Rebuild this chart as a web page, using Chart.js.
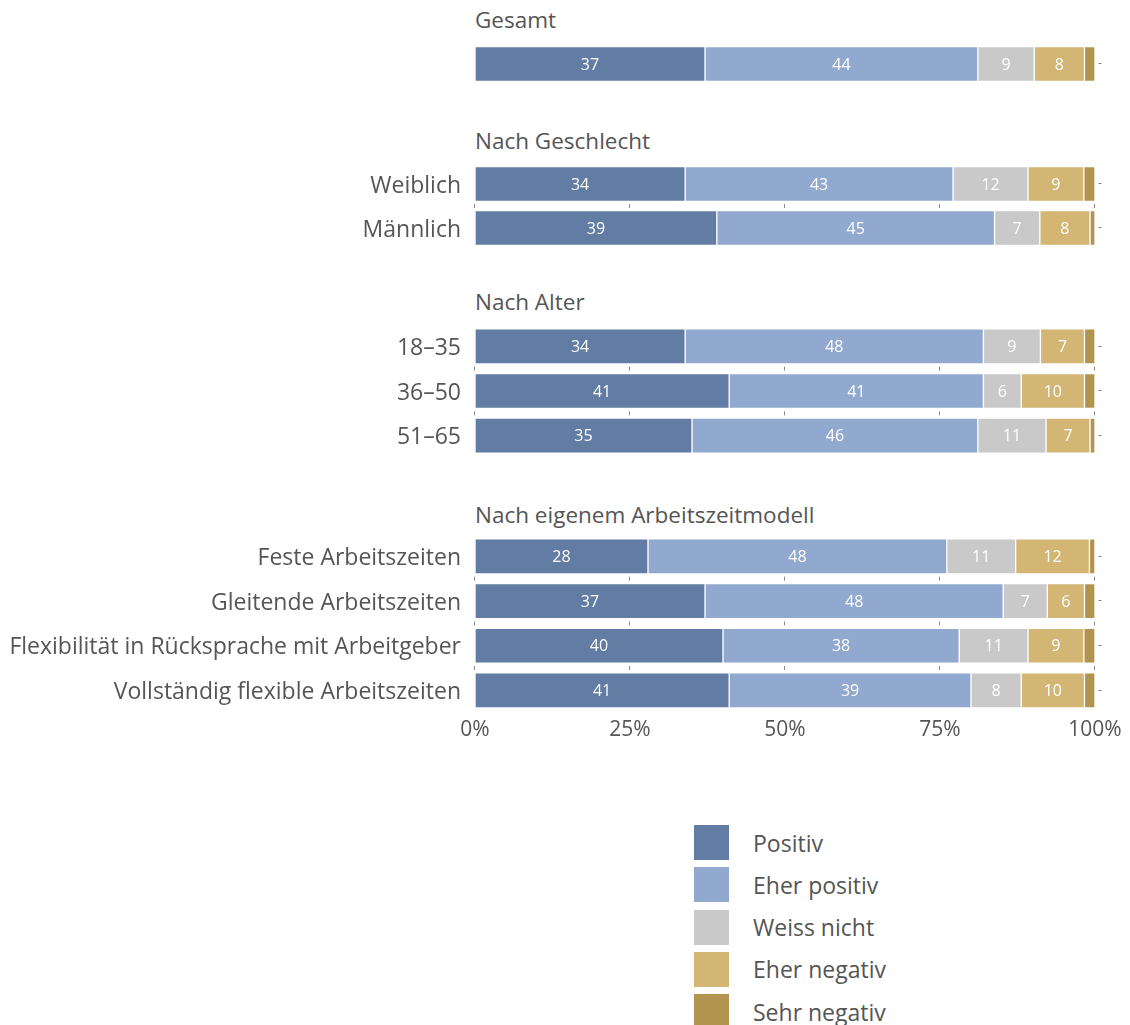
<!DOCTYPE html>
<html>
<head>
<meta charset="utf-8">
<script src="https://cdn.jsdelivr.net/npm/chart.js@4.4.1/dist/chart.umd.min.js"></script>
<style>
  body { margin: 0; background: #fff; font-family: "Open Sans", sans-serif; color: #555; }
  #wrap { position: relative; width: 1130px; height: 1025px; }
  .box { position: absolute; left: 0; width: 1130px; }
  .head { position: absolute; left: 475px; font-size: 22.5px; line-height: 26px; white-space: nowrap; }
  #legend { position: absolute; left: 694px; top: 825px; }
  .item { display: flex; align-items: center; height: 35px; margin-bottom: 7.3px; font-size: 23px; }
  .sw { width: 35px; height: 35px; margin-right: 24px; }
</style>
</head>
<body>
<div id="wrap"></div>
<script>
const seriesNames = ['Positiv', 'Eher positiv', 'Weiss nicht', 'Eher negativ', 'Sehr negativ'];
const seriesColors = ['#627ca4', '#91a8cf', '#c9c9c9', '#d3b574', '#b3944f'];
const groupTitles = ['Gesamt', 'Nach Geschlecht', 'Nach Alter', 'Nach eigenem Arbeitszeitmodell'];
const groupRows = [
   [''],
   ['Weiblich', 'Männlich'],
   ['18–35', '36–50', '51–65'],
   ['Feste Arbeitszeiten', 'Gleitende Arbeitszeiten', 'Flexibilität in Rücksprache mit Arbeitgeber', 'Vollständig flexible Arbeitszeiten']
];
// one value per row, rows in the order above
const positiv     = [37.1, 33.9, 39.0, 33.9, 41.0, 35.0, 27.9, 37.1, 40.0, 41.0];
const eherPositiv = [44.0, 43.2, 44.8, 48.1, 41.0, 46.1, 48.2, 48.1, 38.1, 39.0];
const weissNicht  = [9.1, 12.1, 7.3, 9.2, 6.1, 11.0, 11.1, 7.1, 11.1, 8.1];
const eherNegativ = [8.1, 9.0, 8.1, 7.1, 10.2, 7.1, 11.9, 6.0, 9.0, 10.2];
const sehrNegativ = [1.7, 1.8, 0.8, 1.7, 1.7, 0.8, 0.9, 1.7, 1.8, 1.7];
const xTicks = [0, 25, 50, 75, 100];

const allSeries = [positiv, eherPositiv, weissNicht, eherNegativ, sehrNegativ];
const FONT = '"Open Sans", sans-serif';

// layout of the four blocks (canvas top / height, header top)
const blocks = [
   { top: 42, height: 44, head: 7 },
   { top: 162, height: 88, head: 128 },
   { top: 324, height: 134, head: 289 },
   { top: 534, height: 214, head: 502 }
];

const barText = {
   id: 'barText',
   beforeDatasetsDraw(chart) {
      // little marks between the bars at the x ticks
      const ctx = chart.ctx;
      const xs = chart.scales.x, ys = chart.scales.y;
      ctx.save();
      ctx.strokeStyle = '#8a8a8a';
      ctx.lineWidth = 1;
      for (let j = 0; j < chart.data.labels.length - 1; j++) {
         const mid = (ys.getPixelForValue(j) + ys.getPixelForValue(j + 1)) / 2;
         xTicks.forEach(v => {
            const x = Math.round(xs.getPixelForValue(v)) - 0.5;
            ctx.beginPath();
            ctx.moveTo(x, mid - 2);
            ctx.lineTo(x, mid + 2);
            ctx.stroke();
         });
      }
      ctx.restore();
   },
   afterDatasetsDraw(chart) {
      const ctx = chart.ctx;
      const last = chart.data.datasets.length - 1;
      ctx.save();
      ctx.textBaseline = 'middle';
      chart.data.datasets.forEach((ds, i) => {
         chart.getDatasetMeta(i).data.forEach((bar, j) => {
            if (i < last) {
               ctx.fillStyle = '#fff';
               ctx.textAlign = 'center';
               ctx.font = '16px ' + FONT;
               ctx.fillText(Math.round(ds.data[j]), (bar.x + bar.base) / 2, bar.y + 1);
            } else {
               ctx.fillStyle = '#777';
               ctx.textAlign = 'left';
               ctx.font = '12px ' + FONT;
               ctx.fillText('-', bar.x + 3, bar.y);
            }
         });
      });
      ctx.restore();
   }
};

const wrap = document.getElementById('wrap');
let offset = 0;
groupRows.forEach((rows, g) => {
   const b = blocks[g];
   const head = document.createElement('div');
   head.className = 'head';
   head.style.top = b.head + 'px';
   head.textContent = groupTitles[g];
   wrap.appendChild(head);

   const box = document.createElement('div');
   box.className = 'box';
   box.style.top = b.top + 'px';
   box.style.height = b.height + 'px';
   const canvas = document.createElement('canvas');
   box.appendChild(canvas);
   wrap.appendChild(box);

   const isLast = g === groupRows.length - 1;
   const start = offset;
   offset += rows.length;

   new Chart(canvas, {
      type: 'bar',
      data: {
         labels: rows,
         datasets: allSeries.map((vals, i) => ({
            label: seriesNames[i],
            data: vals.slice(start, start + rows.length),
            backgroundColor: seriesColors[i],
            borderColor: '#fff',
            borderWidth: 1,
            borderSkipped: false,
            barThickness: 35
         }))
      },
      options: {
         indexAxis: 'y',
         responsive: true,
         maintainAspectRatio: false,
         animation: false,
         layout: { padding: { left: 0, right: 35, top: 0, bottom: 0 } },
         scales: {
            x: {
               display: isLast,
               stacked: true,
               min: 0,
               max: 100,
               grid: { display: false, drawTicks: false },
               border: { display: false },
               ticks: {
                  stepSize: 25,
                  padding: 5,
                  color: '#555',
                  font: { family: FONT, size: 21 },
                  callback: v => v + '%'
               }
            },
            y: {
               stacked: true,
               grid: { display: false, drawTicks: false },
               border: { display: false },
               ticks: {
                  padding: 14,
                  labelOffset: 2,
                  color: '#555',
                  font: { family: FONT, size: 23 }
               },
               afterFit: scale => {
                  scale.width = 475;
                  scale.paddingTop = 0;
                  scale.paddingBottom = 0;
               }
            }
         },
         plugins: {
            legend: { display: false },
            tooltip: { enabled: false }
         }
      },
      plugins: [barText]
   });
});

// legend
const legend = document.createElement('div');
legend.id = 'legend';
seriesNames.forEach((name, i) => {
   const item = document.createElement('div');
   item.className = 'item';
   const sw = document.createElement('div');
   sw.className = 'sw';
   sw.style.background = seriesColors[i];
   const txt = document.createElement('span');
   txt.textContent = name;
   item.appendChild(sw);
   item.appendChild(txt);
   legend.appendChild(item);
});
wrap.appendChild(legend);
</script>
</body>
</html>
